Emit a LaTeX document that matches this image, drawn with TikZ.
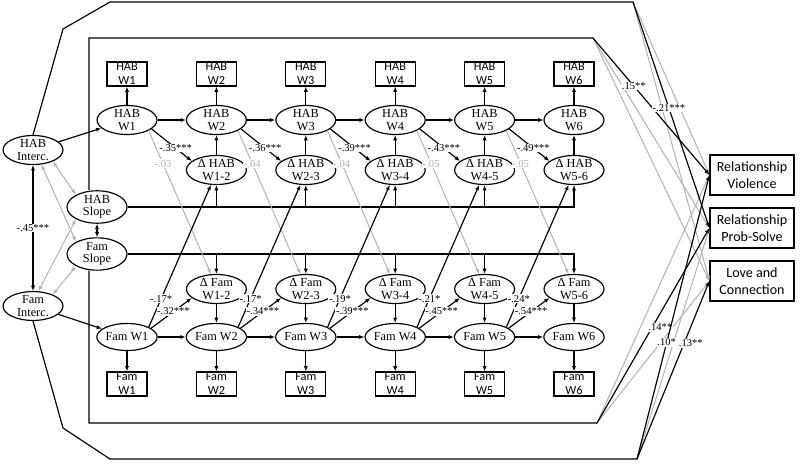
\documentclass[tikz,border=0pt]{standalone}
\usepackage{fontspec}
\setmainfont{Liberation Serif}
\newfontfamily\boxfont{Carlito}
\usepackage{tikz}
\usetikzlibrary{positioning, arrows.meta, shapes.geometric}
\definecolor{pathgray}{RGB}{178,178,178}

\begin{document}
\begin{tikzpicture}
    [
        x=0.3mm, y=-0.3mm,
        node distance=15mm and 26.82mm, on grid,
        >={Latex[length=4.5pt, width=3.6pt]},
        latent_node/.style={ellipse, draw=black, line width=0.35mm, minimum width=18mm, minimum height=8.1mm, inner sep=0pt, align=center, font=\fontsize{10.5}{10.4}\selectfont},
        obs_node/.style={rectangle, draw=black, line width=0.35mm, minimum width=12mm, minimum height=7.2mm, inner sep=0pt, align=center, font=\boxfont\fontsize{10.5}{12}\selectfont},
        outcome_node/.style={rectangle, draw=black, line width=0.35mm, minimum width=25.2mm, minimum height=12mm, inner sep=0pt, align=center, font=\boxfont\fontsize{12}{15}\selectfont},
        black_edge/.style={line width=0.35mm, color=black},
        gray_edge/.style={line width=0.3mm, color=pathgray},
        coef_label/.style={fill=white, inner sep=0.6pt, font=\fontsize{9}{9}\selectfont},
        gray_label/.style={coef_label, text=pathgray},
    ]
        \useasboundingbox (0,0) rectangle (800,463) ;

        % growth factors
        \node[latent_node] (habint) at (33,150) {HAB\\Interc.} ;
        \node[latent_node] (famint) at (33,306) {Fam\\Interc.} ;
        \node[latent_node] (habslope) at (97,207) {HAB\\Slope} ;
        \node[latent_node] (famslope) [below = 14.1mm of habslope] {Fam\\Slope} ;

        % HAB waves
        \node[latent_node] (habw1) at (127,120) {HAB\\W1} ;
        \node[latent_node] (habw2) [right = of habw1] {HAB\\W2} ;
        \node[latent_node] (habw3) [right = of habw2] {HAB\\W3} ;
        \node[latent_node] (habw4) [right = of habw3] {HAB\\W4} ;
        \node[latent_node] (habw5) [right = of habw4] {HAB\\W5} ;
        \node[latent_node] (habw6) [right = of habw5] {HAB\\W6} ;
        \node[obs_node] (habo1) [above = 13.8mm of habw1] {HAB\\W1} ;
        \node[obs_node] (habo2) [above = 13.8mm of habw2] {HAB\\W2} ;
        \node[obs_node] (habo3) [above = 13.8mm of habw3] {HAB\\W3} ;
        \node[obs_node] (habo4) [above = 13.8mm of habw4] {HAB\\W4} ;
        \node[obs_node] (habo5) [above = 13.8mm of habw5] {HAB\\W5} ;
        \node[obs_node] (habo6) [above = 13.8mm of habw6] {HAB\\W6} ;
        \node[latent_node] (dhab12) [below = of habw2] {Δ HAB\\W1-2} ;
        \node[latent_node] (dhab23) [below = of habw3] {Δ HAB\\W2-3} ;
        \node[latent_node] (dhab34) [below = of habw4] {Δ HAB\\W3-4} ;
        \node[latent_node] (dhab45) [below = of habw5] {Δ HAB\\W4-5} ;
        \node[latent_node] (dhab56) [below = of habw6] {Δ HAB\\W5-6} ;

        % Fam waves
        \node[latent_node] (famw1) at (127,337) {Fam W1} ;
        \node[latent_node] (famw2) [right = of famw1] {Fam W2} ;
        \node[latent_node] (famw3) [right = of famw2] {Fam W3} ;
        \node[latent_node] (famw4) [right = of famw3] {Fam W4} ;
        \node[latent_node] (famw5) [right = of famw4] {Fam W5} ;
        \node[latent_node] (famw6) [right = of famw5] {Fam W6} ;
        \node[obs_node] (famo1) [below = 14.1mm of famw1] {Fam\\W1} ;
        \node[obs_node] (famo2) [below = 14.1mm of famw2] {Fam\\W2} ;
        \node[obs_node] (famo3) [below = 14.1mm of famw3] {Fam\\W3} ;
        \node[obs_node] (famo4) [below = 14.1mm of famw4] {Fam\\W4} ;
        \node[obs_node] (famo5) [below = 14.1mm of famw5] {Fam\\W5} ;
        \node[obs_node] (famo6) [below = 14.1mm of famw6] {Fam\\W6} ;
        \node[latent_node] (dfam12) [above = 14.4mm of famw2] {Δ Fam\\W1-2} ;
        \node[latent_node] (dfam23) [above = 14.4mm of famw3] {Δ Fam\\W2-3} ;
        \node[latent_node] (dfam34) [above = 14.4mm of famw4] {Δ Fam\\W3-4} ;
        \node[latent_node] (dfam45) [above = 14.4mm of famw5] {Δ Fam\\W4-5} ;
        \node[latent_node] (dfam56) [above = 14.4mm of famw6] {Δ Fam\\W5-6} ;

        % outcomes
        \node[outcome_node] (rv) at (752,175) {Relationship\\Violence} ;
        \node[outcome_node] (rps) [below = 15.9mm of rv] {Relationship\\Prob-Solve} ;
        \node[outcome_node] (lc) [below = 15.9mm of rps] {Love and\\Connection} ;

        % corners of the factor paths
        \coordinate (itl) at (89,38) ;
        \coordinate (itr) at (593,38) ;
        \coordinate (ibl) at (89,423) ;
        \coordinate (ibr) at (597,423) ;
        \coordinate (ot1) at (63,29) ;
        \coordinate (ot2) at (110,2) ;
        \coordinate (otr) at (633,2) ;
        \coordinate (ob1) at (63,428) ;
        \coordinate (ob2) at (110,459) ;
        \coordinate (obr) at (637,459) ;

        % factor correlations
        \draw[<->, gray_edge] (habint.-30) to (habslope.150) ;
        \draw[<->, gray_edge] (habint.-60) to (famslope.150) ;
        \draw[<->, gray_edge] (famint.70) to (habslope.210) ;
        \draw[<->, gray_edge] (famint.30) to (famslope.210) ;
        \draw[<->, black_edge] (habint) to node[coef_label]{-.45***} (famint) ;
        \draw[<->, black_edge] (habslope) to (famslope) ;
        \draw[->, black_edge] (habint) to (habw1) ;
        \draw[->, black_edge] (famint) to (famw1) ;

        % slope loadings
        \draw[->, black_edge] (habslope.east) -| (dhab56.south) ;
        \draw[->, black_edge] (habslope.east -| dhab12.south) to (dhab12.south) ;
        \draw[->, black_edge] (habslope.east -| dhab23.south) to (dhab23.south) ;
        \draw[->, black_edge] (habslope.east -| dhab34.south) to (dhab34.south) ;
        \draw[->, black_edge] (habslope.east -| dhab45.south) to (dhab45.south) ;
        \draw[->, black_edge] (famslope.east) -| (dfam56.north) ;
        \draw[->, black_edge] (famslope.east -| dfam12.north) to (dfam12.north) ;
        \draw[->, black_edge] (famslope.east -| dfam23.north) to (dfam23.north) ;
        \draw[->, black_edge] (famslope.east -| dfam34.north) to (dfam34.north) ;
        \draw[->, black_edge] (famslope.east -| dfam45.north) to (dfam45.north) ;

        % W1 to W2
        \draw[->, black_edge] (habw1) to (habo1) ;
        \draw[->, black_edge] (habw1) to (habw2) ;
        \draw[->, black_edge] (dhab12) to (habw2) ;
        \draw[->, gray_edge] (habw1.south east) to node[gray_label, pos=0.23]{-.03} (dfam12.110) ;
        \draw[->, black_edge] (habw1.-20) to node[coef_label, pos=0.6]{-.35***} (dhab12.160) ;
        \draw[->, black_edge] (famw1) to (famo1) ;
        \draw[->, black_edge] (famw1) to (famw2) ;
        \draw[->, black_edge] (dfam12) to (famw2) ;
        \draw[->, black_edge] (famw1.north east) to node[coef_label, pos=0.2]{-.17*} (dhab12.-110) ;
        \draw[->, black_edge] (famw1.20) to node[coef_label, pos=0.55]{-.32***} (dfam12.200) ;

        % W2 to W3
        \draw[->, black_edge] (habw2) to (habo2) ;
        \draw[->, black_edge] (habw2) to (habw3) ;
        \draw[->, black_edge] (dhab23) to (habw3) ;
        \draw[->, gray_edge] (habw2.south east) to node[gray_label, pos=0.23]{-.04} (dfam23.110) ;
        \draw[->, black_edge] (habw2.-20) to node[coef_label, pos=0.6]{-.36***} (dhab23.160) ;
        \draw[->, black_edge] (famw2) to (famo2) ;
        \draw[->, black_edge] (famw2) to (famw3) ;
        \draw[->, black_edge] (dfam23) to (famw3) ;
        \draw[->, black_edge] (famw2.north east) to node[coef_label, pos=0.2]{-.17*} (dhab23.-110) ;
        \draw[->, black_edge] (famw2.20) to node[coef_label, pos=0.55]{-.34***} (dfam23.200) ;

        % W3 to W4
        \draw[->, black_edge] (habw3) to (habo3) ;
        \draw[->, black_edge] (habw3) to (habw4) ;
        \draw[->, black_edge] (dhab34) to (habw4) ;
        \draw[->, gray_edge] (habw3.south east) to node[gray_label, pos=0.23]{-.04} (dfam34.110) ;
        \draw[->, black_edge] (habw3.-20) to node[coef_label, pos=0.6]{-.39***} (dhab34.160) ;
        \draw[->, black_edge] (famw3) to (famo3) ;
        \draw[->, black_edge] (famw3) to (famw4) ;
        \draw[->, black_edge] (dfam34) to (famw4) ;
        \draw[->, black_edge] (famw3.north east) to node[coef_label, pos=0.2]{-.19*} (dhab34.-110) ;
        \draw[->, black_edge] (famw3.20) to node[coef_label, pos=0.55]{-.39***} (dfam34.200) ;

        % W4 to W5
        \draw[->, black_edge] (habw4) to (habo4) ;
        \draw[->, black_edge] (habw4) to (habw5) ;
        \draw[->, black_edge] (dhab45) to (habw5) ;
        \draw[->, gray_edge] (habw4.south east) to node[gray_label, pos=0.23]{-.05} (dfam45.110) ;
        \draw[->, black_edge] (habw4.-20) to node[coef_label, pos=0.6]{-.43***} (dhab45.160) ;
        \draw[->, black_edge] (famw4) to (famo4) ;
        \draw[->, black_edge] (famw4) to (famw5) ;
        \draw[->, black_edge] (dfam45) to (famw5) ;
        \draw[->, black_edge] (famw4.north east) to node[coef_label, pos=0.2]{-.21*} (dhab45.-110) ;
        \draw[->, black_edge] (famw4.20) to node[coef_label, pos=0.55]{-.45***} (dfam45.200) ;

        % W5 to W6
        \draw[->, black_edge] (habw5) to (habo5) ;
        \draw[->, black_edge] (habw5) to (habw6) ;
        \draw[->, black_edge] (dhab56) to (habw6) ;
        \draw[->, gray_edge] (habw5.south east) to node[gray_label, pos=0.23]{-.05} (dfam56.110) ;
        \draw[->, black_edge] (habw5.-20) to node[coef_label, pos=0.6]{-.49***} (dhab56.160) ;
        \draw[->, black_edge] (famw5) to (famo5) ;
        \draw[->, black_edge] (famw5) to (famw6) ;
        \draw[->, black_edge] (dfam56) to (famw6) ;
        \draw[->, black_edge] (famw5.north east) to node[coef_label, pos=0.2]{-.24*} (dhab56.-110) ;
        \draw[->, black_edge] (famw5.20) to node[coef_label, pos=0.55]{-.54***} (dfam56.200) ;
        \draw[->, black_edge] (habw6) to (habo6) ;
        \draw[->, black_edge] (famw6) to (famo6) ;

        % factors to outcomes
        \draw[->, gray_edge] (itr) to (rps.west) ;
        \draw[->, gray_edge] (itr) to (lc.west) ;
        \draw[->, gray_edge] (otr) to (rv.west) ;
        \draw[->, gray_edge] (otr) to (lc.west) ;
        \draw[->, gray_edge] (ibr) to (rv.west) ;
        \draw[->, gray_edge] (ibr) to (lc.west) ;
        \draw[->, gray_edge] (obr) to (rps.west) ;
        \draw[->, black_edge] (habslope.north -| itl) to (itl) to (itr) to node[coef_label, pos=0.35]{.15**} (rv.west) ;
        \draw[->, black_edge] (habint.north) to (ot1) to (ot2) to (otr) to node[coef_label, pos=0.47]{-.21***} (rps.west) ;
        \draw[->, black_edge] (famslope.south -| ibl) to (ibl) to (ibr) to node[coef_label, pos=0.49, xshift=2.5mm]{.14**} (rps.west) ;
        \draw[->, black_edge] (famint.south) to (ob1) to (ob2) to (obr) to node[coef_label, pos=0.41]{.10*} (rv.west) ;
        \draw[->, black_edge] (obr) to node[coef_label, pos=0.65, xshift=2mm]{.13**} (lc.west) ;
\end{tikzpicture}
\end{document}
